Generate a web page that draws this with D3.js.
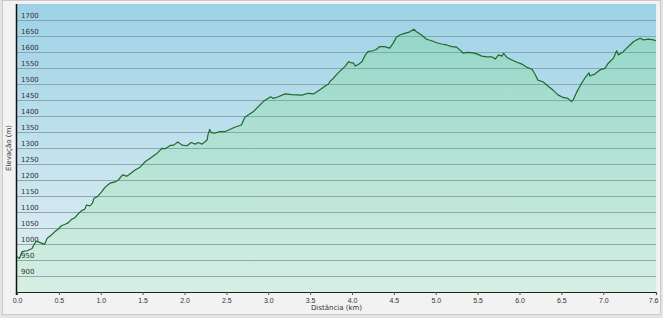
<!DOCTYPE html>
<html>
<head>
<meta charset="utf-8">
<script src="https://cdn.jsdelivr.net/npm/d3@7"></script>
<style>
  body { margin: 0; background: #e4e4e4; }
  svg { display: block; font-family: "DejaVu Sans", Verdana, sans-serif; }
  .tick text { fill: #333; font-size: 7px; }
</style>
</head>
<body>
<svg id="chart" width="663" height="318"></svg>
<script>
// distance along the track (km)
var distance = [0.00, 0.03, 0.06, 0.12, 0.18, 0.20, 0.23, 0.27, 0.33, 0.35, 0.36, 0.41, 0.45, 0.49, 0.53, 0.57, 0.61, 0.65, 0.69, 0.73,
  0.77, 0.81, 0.83, 0.87, 0.90, 0.92, 0.96, 1.01, 1.05, 1.11, 1.17, 1.21, 1.26, 1.31, 1.36, 1.41, 1.47, 1.53, 1.59, 1.67,
  1.73, 1.77, 1.83, 1.87, 1.92, 1.97, 2.03, 2.08, 2.13, 2.16, 2.21, 2.27, 2.28, 2.30, 2.32, 2.36, 2.42, 2.48, 2.54, 2.60,
  2.68, 2.72, 2.76, 2.82, 2.88, 2.94, 2.98, 3.03, 3.06, 3.12, 3.20, 3.28, 3.40, 3.48, 3.54, 3.60, 3.68, 3.72, 3.74, 3.78,
  3.82, 3.86, 3.92, 3.96, 3.98, 4.02, 4.04, 4.08, 4.12, 4.16, 4.19, 4.25, 4.29, 4.33, 4.39, 4.45, 4.49, 4.53, 4.57, 4.63,
  4.69, 4.74, 4.77, 4.83, 4.89, 4.95, 5.01, 5.07, 5.13, 5.19, 5.25, 5.29, 5.33, 5.37, 5.43, 5.49, 5.55, 5.61, 5.67, 5.71,
  5.75, 5.79, 5.81, 5.85, 5.91, 5.97, 6.03, 6.09, 6.15, 6.19, 6.22, 6.28, 6.34, 6.40, 6.46, 6.52, 6.58, 6.62, 6.64, 6.68,
  6.72, 6.74, 6.78, 6.83, 6.84, 6.90, 6.96, 7.02, 7.06, 7.12, 7.16, 7.18, 7.24, 7.28, 7.32, 7.36, 7.40, 7.44, 7.48, 7.54,
  7.60, 7.63];

// elevation (m)
var elevation = [960, 955, 976, 979, 986, 997, 1009, 1005, 999, 1012, 1018, 1028, 1038, 1046, 1057, 1061, 1066, 1077, 1082, 1094,
  1104, 1109, 1122, 1119, 1127, 1143, 1148, 1163, 1177, 1190, 1194, 1200, 1216, 1212, 1221, 1231, 1240, 1257, 1268, 1283,
  1299, 1298, 1308, 1309, 1319, 1309, 1307, 1317, 1312, 1317, 1312, 1325, 1341, 1358, 1348, 1346, 1351, 1351, 1358, 1365,
  1372, 1396, 1403, 1413, 1429, 1445, 1452, 1460, 1455, 1460, 1469, 1467, 1465, 1471, 1469, 1479, 1494, 1500, 1509, 1518,
  1531, 1541, 1556, 1570, 1567, 1565, 1556, 1562, 1570, 1591, 1601, 1604, 1608, 1617, 1617, 1612, 1627, 1646, 1653, 1658,
  1663, 1671, 1663, 1653, 1640, 1635, 1629, 1625, 1622, 1617, 1615, 1606, 1596, 1599, 1598, 1594, 1587, 1585, 1585, 1578,
  1591, 1587, 1596, 1583, 1575, 1568, 1562, 1552, 1546, 1528, 1512, 1507, 1494, 1481, 1466, 1458, 1455, 1445, 1450, 1473,
  1492, 1502, 1518, 1535, 1525, 1531, 1544, 1549, 1565, 1580, 1604, 1591, 1601, 1612, 1622, 1632, 1638, 1643, 1638, 1640,
  1638, 1635];

var xTickValues = [0, 0.5, 1.0, 1.5, 2.0, 2.5, 3.0, 3.5, 4.0, 4.5, 5.0, 5.5, 6.0, 6.5, 7.0, 7.63];
var xTickLabels = ["0.0", "0.5", "1.0", "1.5", "2.0", "2.5", "3.0", "3.5", "4.0", "4.5", "5.0", "5.5", "6.0", "6.5", "7.0", "7.6"];
var yTickValues = [900, 950, 1000, 1050, 1100, 1150, 1200, 1250, 1300, 1350, 1400, 1450, 1500, 1550, 1600, 1650, 1700];

var dataset = distance.map(function (d, i) { return { dist: d, elev: elevation[i] }; });

var svg = d3.select("#chart");
var plot = { left: 17, right: 656, top: 4, bottom: 292 };

var xScale = d3.scaleLinear().domain([0, 7.63]).range([plot.left, plot.right]);
var yScale = d3.scaleLinear().domain([850, 1750]).range([plot.bottom, plot.top]);

// outer panel
svg.append("rect").attr("x", 2.5).attr("y", 0.5).attr("width", 658).attr("height", 314)
  .attr("fill", "#f2f2f2").attr("stroke", "#c9c9c9");

var defs = svg.append("defs");
var sky = defs.append("linearGradient").attr("id", "sky")
  .attr("gradientUnits", "userSpaceOnUse").attr("x1", 0).attr("y1", plot.top).attr("x2", 0).attr("y2", plot.bottom);
sky.append("stop").attr("offset", "0%").attr("stop-color", "#9dd2e6");
sky.append("stop").attr("offset", "100%").attr("stop-color", "#e6f0f4");

var ground = defs.append("linearGradient").attr("id", "ground")
  .attr("gradientUnits", "userSpaceOnUse").attr("x1", 0).attr("y1", plot.top).attr("x2", 0).attr("y2", plot.bottom);
ground.append("stop").attr("offset", "0%").attr("stop-color", "#8ed4c4");
ground.append("stop").attr("offset", "100%").attr("stop-color", "#d6efe3");

// plot background
svg.append("rect").attr("x", plot.left).attr("y", plot.top)
  .attr("width", plot.right - plot.left).attr("height", plot.bottom - plot.top)
  .attr("fill", "url(#sky)");

var area = d3.area()
  .x(function (d) { return xScale(d.dist); })
  .y0(plot.bottom)
  .y1(function (d) { return yScale(d.elev); });

var line = d3.line()
  .x(function (d) { return xScale(d.dist); })
  .y(function (d) { return yScale(d.elev); });

svg.append("path").datum(dataset).attr("d", area).attr("fill", "url(#ground)");

// horizontal gridlines
svg.append("g")
  .attr("transform", "translate(" + plot.left + ",0)")
  .call(d3.axisLeft(yScale).tickValues(yTickValues).tickSize(-(plot.right - plot.left)).tickFormat(""))
  .call(function (g) { g.select(".domain").remove(); })
  .call(function (g) { g.selectAll(".tick line").attr("stroke", "#7f9ea9").attr("stroke-opacity", 0.85); });

// y labels sit just above their gridline
svg.append("g")
  .selectAll("text")
  .data(yTickValues)
  .enter().append("text")
  .attr("x", plot.left + 4)
  .attr("y", function (d) { return yScale(d) - 2; })
  .attr("font-size", "7px")
  .attr("fill", "#333")
  .text(function (d) { return d; });

svg.append("path").datum(dataset).attr("d", line)
  .attr("fill", "none").attr("stroke", "#1c6b2c").attr("stroke-width", 1.2)
  .attr("stroke-linejoin", "round");

// axes lines
svg.append("line").attr("x1", plot.left - 0.5).attr("x2", plot.left - 0.5)
  .attr("y1", plot.top).attr("y2", plot.bottom + 3)
  .attr("stroke", "#111").attr("stroke-width", 1.5);

var xAxis = svg.append("g")
  .attr("transform", "translate(0," + plot.bottom + ")")
  .call(d3.axisBottom(xScale).tickValues(xTickValues).tickSize(3).tickPadding(3)
    .tickFormat(function (d, i) { return xTickLabels[i]; }));
xAxis.select(".domain").attr("stroke", "#222").attr("stroke-width", 1.2);
xAxis.selectAll(".tick line").attr("stroke", "#555");
xAxis.select(".tick:last-of-type text").attr("text-anchor", "end").attr("dx", 2);

svg.append("line").attr("x1", plot.right + 0.5).attr("x2", plot.right + 0.5)
  .attr("y1", plot.top).attr("y2", plot.bottom)
  .attr("stroke", "#e8f2f4");

// axis titles
svg.append("text")
  .attr("x", (plot.left + plot.right) / 2).attr("y", 310)
  .attr("text-anchor", "middle").attr("font-size", "7px").attr("fill", "#333")
  .text("Distância  (km)");

svg.append("text")
  .attr("transform", "translate(11," + ((plot.top + plot.bottom) / 2) + ") rotate(-90)")
  .attr("text-anchor", "middle").attr("font-size", "7px").attr("fill", "#333")
  .text("Elevação (m)");
</script>
</body>
</html>
